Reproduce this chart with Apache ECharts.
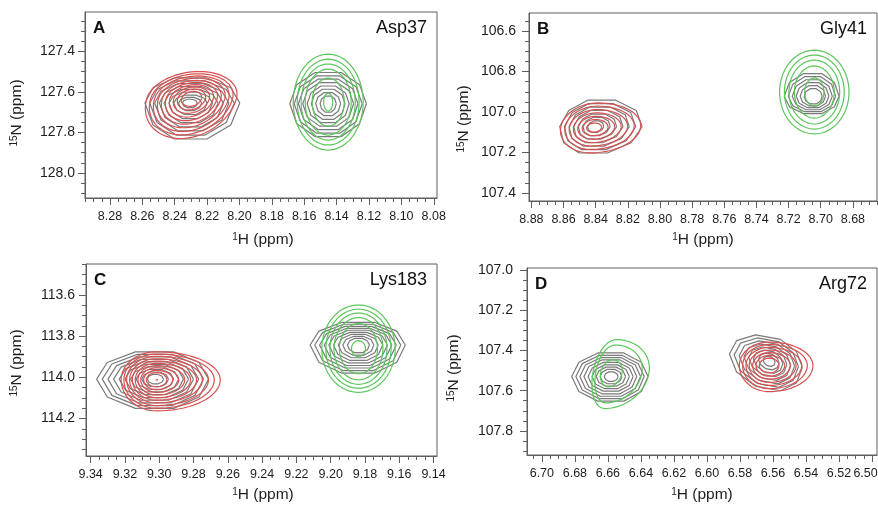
<!DOCTYPE html>
<html>
<head>
<meta charset="utf-8">
<script src="https://cdn.jsdelivr.net/npm/echarts@6/dist/echarts.min.js"></script>
<style>
  html, body { margin: 0; padding: 0; background: #fff; }
  #chart { width: 878px; height: 509px; }
</style>
</head>
<body>
<div id="chart"></div>
<script>
// ---------------- data ----------------
const panelLetters = ['A', 'B', 'C', 'D'];
const residueNames = ['Asp37', 'Gly41', 'Lys183', 'Arg72'];

// axis ranges [min, max] in ppm (1H axis runs right-to-left, 15N top-to-bottom)
const hRangeA = [8.078, 8.2954];
const nRangeA = [127.205, 128.124];
const hRangeB = [8.665, 8.8815];
const nRangeB = [106.51, 107.44];
const hRangeC = [9.138, 9.3427];
const nRangeC = [113.45, 114.382];
const hRangeD = [6.497, 6.709];
const nRangeD = [106.99, 107.92];

// labelled ticks
const hTicksA = [8.28, 8.26, 8.24, 8.22, 8.20, 8.18, 8.16, 8.14, 8.12, 8.10, 8.08];
const nTicksA = [127.4, 127.6, 127.8, 128.0];
const hTicksB = [8.88, 8.86, 8.84, 8.82, 8.80, 8.78, 8.76, 8.74, 8.72, 8.70, 8.68];
const nTicksB = [106.6, 106.8, 107.0, 107.2, 107.4];
const hTicksC = [9.34, 9.32, 9.30, 9.28, 9.26, 9.24, 9.22, 9.20, 9.18, 9.16, 9.14];
const nTicksC = [113.6, 113.8, 114.0, 114.2];
const hTicksD = [6.70, 6.68, 6.66, 6.64, 6.62, 6.60, 6.58, 6.56, 6.54, 6.52, 6.50];
const nTicksD = [107.0, 107.2, 107.4, 107.6, 107.8];
const hMinorStep = 0.005;
const nMinorStep = 0.05;

// Peak apexes [1H, 15N] and contour levels, each level given as its
// extent from the apex: [to the left, to the right, upward, downward] in ppm.
const aGrayLApex = [8.2306, 127.655];
const aGrayL = [
  [0.0278, 0.0308, 0.132, 0.189], [0.0248, 0.0274, 0.117, 0.168],
  [0.0218, 0.0241, 0.102, 0.146], [0.0189, 0.0207, 0.087, 0.125],
  [0.0159, 0.0174, 0.072, 0.103], [0.0129, 0.0140, 0.057, 0.082],
  [0.0100, 0.0107, 0.042, 0.060], [0.0070, 0.0073, 0.030, 0.040],
  [0.0046, 0.0046, 0.020, 0.024]
];
const aRedApex = [8.2296, 127.634];
const aRed = [
  [0.0277, 0.0277, 0.135, 0.196], [0.0253, 0.0253, 0.124, 0.178],
  [0.0229, 0.0229, 0.113, 0.161], [0.0205, 0.0205, 0.102, 0.143],
  [0.0181, 0.0181, 0.091, 0.125], [0.0158, 0.0158, 0.081, 0.108],
  [0.0134, 0.0134, 0.070, 0.090], [0.0110, 0.0110, 0.059, 0.072],
  [0.0086, 0.0086, 0.048, 0.055], [0.0062, 0.0062, 0.037, 0.037]
];
const aGrayRApex = [8.1452, 127.658];
const aGrayR = [
  [0.0237, 0.0236, 0.164, 0.173], [0.0210, 0.0210, 0.146, 0.155],
  [0.0184, 0.0184, 0.129, 0.136], [0.0157, 0.0157, 0.111, 0.118],
  [0.0130, 0.0130, 0.093, 0.100], [0.0104, 0.0104, 0.076, 0.082],
  [0.0077, 0.0077, 0.058, 0.063], [0.0050, 0.0050, 0.040, 0.045]
];
const aGreenApex = [8.1452, 127.650];
const aGreen = [
  [0.0216, 0.0216, 0.237, 0.237], [0.0191, 0.0191, 0.212, 0.212],
  [0.0167, 0.0167, 0.188, 0.188], [0.0142, 0.0142, 0.163, 0.163],
  [0.0099, 0.0099, 0.119, 0.119], [0.0028, 0.0028, 0.045, 0.045]
];

const bGrayLApex = [8.840, 107.072];
const bGrayL = [
  [0.0224, 0.0289, 0.139, 0.139], [0.0195, 0.0249, 0.121, 0.121],
  [0.0166, 0.0209, 0.103, 0.103], [0.0137, 0.0170, 0.085, 0.085],
  [0.0108, 0.0130, 0.066, 0.066], [0.0079, 0.0090, 0.048, 0.048],
  [0.0050, 0.0050, 0.030, 0.030]
];
const bRedApex = [8.841, 107.077];
const bRed = [
  [0.0208, 0.0289, 0.122, 0.125], [0.0181, 0.0249, 0.106, 0.108],
  [0.0154, 0.0208, 0.089, 0.091], [0.0128, 0.0168, 0.073, 0.074],
  [0.0101, 0.0128, 0.056, 0.057], [0.0074, 0.0087, 0.040, 0.040],
  [0.0047, 0.0047, 0.023, 0.023]
];
const bGrayRApex = [8.7047, 106.922];
const bGrayR = [
  [0.0180, 0.0161, 0.119, 0.091], [0.0155, 0.0140, 0.103, 0.081],
  [0.0130, 0.0119, 0.087, 0.071], [0.0106, 0.0098, 0.072, 0.060],
  [0.0081, 0.0077, 0.056, 0.050], [0.0056, 0.0056, 0.040, 0.040]
];
const bGreenApex = [8.704, 106.901];
const bGreen = [
  [0.0216, 0.0216, 0.207, 0.207], [0.0186, 0.0186, 0.183, 0.183],
  [0.0158, 0.0158, 0.158, 0.158], [0.0124, 0.0124, 0.129, 0.129],
  [0.0060, 0.0060, 0.070, 0.070]
];

const cGrayLApex = [9.3022, 114.009];
const cGrayL = [
  [0.0343, 0.0310, 0.141, 0.151], [0.0310, 0.0281, 0.128, 0.137],
  [0.0277, 0.0252, 0.115, 0.123], [0.0244, 0.0222, 0.102, 0.109],
  [0.0211, 0.0193, 0.089, 0.095], [0.0178, 0.0164, 0.076, 0.080],
  [0.0145, 0.0135, 0.063, 0.066], [0.0113, 0.0106, 0.050, 0.052],
  [0.0080, 0.0076, 0.037, 0.038], [0.0047, 0.0047, 0.024, 0.024]
];
const cRedApex = [9.3015, 114.012];
const cRed = [
  [0.0207, 0.0371, 0.136, 0.151], [0.0191, 0.0336, 0.125, 0.138],
  [0.0175, 0.0302, 0.114, 0.125], [0.0158, 0.0267, 0.102, 0.112],
  [0.0142, 0.0233, 0.091, 0.099], [0.0125, 0.0198, 0.080, 0.087],
  [0.0109, 0.0164, 0.069, 0.074], [0.0093, 0.0129, 0.058, 0.061],
  [0.0076, 0.0095, 0.046, 0.048], [0.0060, 0.0060, 0.035, 0.035],
  [0.0008, 0.0008, 0.004, 0.004]
];
const cGrayRApex = [9.1838, 113.843];
const cGrayR = [
  [0.0282, 0.0273, 0.117, 0.146], [0.0255, 0.0247, 0.107, 0.133],
  [0.0227, 0.0221, 0.096, 0.119], [0.0200, 0.0195, 0.086, 0.106],
  [0.0173, 0.0169, 0.076, 0.093], [0.0146, 0.0142, 0.065, 0.080],
  [0.0118, 0.0116, 0.055, 0.066], [0.0091, 0.0090, 0.044, 0.053],
  [0.0064, 0.0064, 0.034, 0.040]
];
const cGreenApex = [9.1838, 113.861];
const cGreen = [
  [0.0214, 0.0214, 0.212, 0.212], [0.0190, 0.0190, 0.192, 0.192],
  [0.0166, 0.0166, 0.173, 0.173], [0.0143, 0.0143, 0.151, 0.151],
  [0.0111, 0.0111, 0.122, 0.122], [0.0041, 0.0041, 0.039, 0.039]
];

const dGrayLApex = [6.658, 107.530];
const dGrayL = [
  [0.0239, 0.0223, 0.125, 0.130], [0.0214, 0.0200, 0.112, 0.117],
  [0.0190, 0.0178, 0.100, 0.104], [0.0165, 0.0155, 0.088, 0.091],
  [0.0140, 0.0133, 0.075, 0.077], [0.0116, 0.0110, 0.062, 0.064],
  [0.0091, 0.0087, 0.050, 0.051], [0.0067, 0.0065, 0.038, 0.038],
  [0.0042, 0.0042, 0.025, 0.025]
];
const dGreenApex = [6.6584, 107.511];
const dGreen = [
  [0.0107, 0.0233, 0.165, 0.178], [0.0090, 0.0190, 0.138, 0.150],
  [0.0060, 0.0070, 0.065, 0.070]
];
const dGrayRApex = [6.5623, 107.454];
const dGrayR = [
  [0.0241, 0.0201, 0.127, 0.145], [0.0212, 0.0177, 0.112, 0.128],
  [0.0182, 0.0154, 0.098, 0.111], [0.0153, 0.0130, 0.083, 0.094],
  [0.0124, 0.0107, 0.069, 0.076], [0.0095, 0.0083, 0.054, 0.059],
  [0.0065, 0.0060, 0.040, 0.042], [0.0036, 0.0036, 0.025, 0.025]
];
const dRedApex = [6.5623, 107.475];
const dRed = [
  [0.0181, 0.0265, 0.117, 0.130], [0.0161, 0.0231, 0.104, 0.115],
  [0.0141, 0.0197, 0.090, 0.099], [0.0121, 0.0163, 0.077, 0.084],
  [0.0100, 0.0128, 0.064, 0.068], [0.0080, 0.0094, 0.050, 0.053],
  [0.0060, 0.0060, 0.037, 0.037]
];

// ---------------- styling ----------------
const FONT = "'Liberation Sans', Arial, Helvetica, sans-serif";
const GRAY = '#7a7a7a';
const RED = '#da5050';
const GREEN = '#5cc65c';
const FRAME = '#5e5e5e';
const TEXT = '#1e1e1e';

// plot boxes [left, top, width, height] and the gap between 15N labels and frame
const boxes = [
  [85, 12, 352, 186],
  [529, 13, 348, 188],
  [86, 264, 351, 192],
  [527, 268, 350, 187]
];
const nLabelGap = [10, 13, 11, 14];
const hRanges = [hRangeA, hRangeB, hRangeC, hRangeD];
const nRanges = [nRangeA, nRangeB, nRangeC, nRangeD];
const hTicks = [hTicksA, hTicksB, hTicksC, hTicksD];
const nTicks = [nTicksA, nTicksB, nTicksC, nTicksD];

// contour sets per panel, drawn in this order
const contourSets = [
  [{ apex: aGrayLApex, levels: aGrayL, color: GRAY, poly: true },
   { apex: aGrayRApex, levels: aGrayR, color: GRAY, poly: true },
   { apex: aRedApex, levels: aRed, color: RED, shx: 0.035 },
   { apex: aGreenApex, levels: aGreen, color: GREEN }],
  [{ apex: bGrayLApex, levels: bGrayL, color: GRAY, poly: true, shx: 0.02 },
   { apex: bGrayRApex, levels: bGrayR, color: GRAY, poly: true },
   { apex: bRedApex, levels: bRed, color: RED, shx: 0.02 },
   { apex: bGreenApex, levels: bGreen, color: GREEN }],
  [{ apex: cGrayLApex, levels: cGrayL, color: GRAY, poly: true },
   { apex: cGrayRApex, levels: cGrayR, color: GRAY, poly: true },
   { apex: cRedApex, levels: cRed, color: RED },
   { apex: cGreenApex, levels: cGreen, color: GREEN }],
  [{ apex: dGrayLApex, levels: dGrayL, color: GRAY, poly: true },
   { apex: dGrayRApex, levels: dGrayR, color: GRAY, poly: true, shy: -1.5 },
   { apex: dGreenApex, levels: dGreen, color: GREEN, shx: 0.02 },
   { apex: dRedApex, levels: dRed, color: RED }]
];

// outline angles: coarse polygons for the grey spectrum, smooth curves otherwise
const POLY_ANGLES = [0, 35, 70, 110, 145, 180, 215, 250, 290, 325].map(d => d * Math.PI / 180);
const SMOOTH_ANGLES = Array.from({ length: 72 }, (_, i) => i * 2 * Math.PI / 72);

function levelOutline(apex, lv, angles, shx, shy) {
  const pts = angles.map(a => {
    const u = Math.cos(a), v = Math.sin(a);
    const dh = -(u >= 0 ? lv[1] : lv[0]) * u;   // screen right = lower ppm
    const dn = (v >= 0 ? lv[3] : lv[2]) * v;    // screen down = higher ppm
    return [apex[0] + dh + shx * dn, apex[1] + dn + shy * dh];
  });
  pts.push(pts[0]);
  return pts;
}

function minorValues(range, step) {
  const out = [];
  const k0 = Math.ceil(range[0] / step - 1e-6), k1 = Math.floor(range[1] / step + 1e-6);
  for (let k = k0; k <= k1; k++) out.push(+(k * step).toFixed(4));
  return out;
}

const grids = [], xAxes = [], yAxes = [], series = [], graphics = [];

boxes.forEach((b, p) => {
  grids.push({
    left: b[0], top: b[1], width: b[2], height: b[3],
    containLabel: false, outerBoundsMode: 'none',
    show: true, borderColor: FRAME, borderWidth: 1, backgroundColor: 'transparent'
  });
  const hr = hRanges[p], nr = nRanges[p];
  // major 1H axis; the label at the page's right edge is nudged left to stay visible
  const edgeTick = p === 3 ? hTicks[p][hTicks[p].length - 1] : null;
  xAxes.push({
    type: 'value', gridIndex: p, min: hr[0], max: hr[1], inverse: true, position: 'bottom',
    axisLine: { show: true, onZero: false, lineStyle: { color: FRAME, width: 1 } },
    axisTick: { show: true, customValues: hTicks[p], length: 7, lineStyle: { color: FRAME, width: 1 } },
    axisLabel: {
      customValues: hTicks[p], margin: 12, color: TEXT, fontSize: 12.5, fontFamily: FONT,
      hideOverlap: false,
      formatter: v => (edgeTick !== null && Math.abs(v - edgeTick) < 1e-6)
        ? '{e|' + v.toFixed(2) + '}' : v.toFixed(2),
      rich: { e: { padding: [0, 13, 0, 0], color: TEXT, fontSize: 12.5, fontFamily: FONT } }
    },
    splitLine: { show: false }
  });
  // minor 1H ticks
  xAxes.push({
    type: 'value', gridIndex: p, min: hr[0], max: hr[1], inverse: true, position: 'bottom',
    axisLine: { show: false, onZero: false },
    axisTick: { show: true, customValues: minorValues(hr, hMinorStep), length: 4,
                lineStyle: { color: FRAME, width: 1 } },
    axisLabel: { show: false }, splitLine: { show: false }
  });
  // major 15N axis
  yAxes.push({
    type: 'value', gridIndex: p, min: nr[0], max: nr[1], inverse: true, position: 'left',
    axisLine: { show: true, onZero: false, lineStyle: { color: FRAME, width: 1 } },
    axisTick: { show: true, customValues: nTicks[p], length: 7, lineStyle: { color: FRAME, width: 1 } },
    axisLabel: { customValues: nTicks[p], formatter: v => v.toFixed(1), margin: nLabelGap[p],
                 color: TEXT, fontSize: 14, fontFamily: FONT },
    splitLine: { show: false }
  });
  // minor 15N ticks
  yAxes.push({
    type: 'value', gridIndex: p, min: nr[0], max: nr[1], inverse: true, position: 'left',
    axisLine: { show: false, onZero: false },
    axisTick: { show: true, customValues: minorValues(nr, nMinorStep), length: 4,
                lineStyle: { color: FRAME, width: 1 } },
    axisLabel: { show: false }, splitLine: { show: false }
  });

  contourSets[p].forEach(set => {
    const angles = set.poly ? POLY_ANGLES : SMOOTH_ANGLES;
    set.levels.forEach(lv => {
      series.push({
        type: 'line', xAxisIndex: 2 * p, yAxisIndex: 2 * p,
        data: levelOutline(set.apex, lv, angles, set.shx || 0, set.shy || 0),
        showSymbol: false, symbol: 'none', silent: true, animation: false,
        lineStyle: { color: set.color, width: 1.2 }, clip: true
      });
    });
  });

  // panel letter and residue name
  graphics.push({
    type: 'text', x: b[0] + 8, y: b[1] + 8,
    style: { text: panelLetters[p], font: `bold 17px ${FONT}`, fill: '#111',
             textAlign: 'left', textVerticalAlign: 'top' }
  });
  graphics.push({
    type: 'text', x: b[0] + b[2] - 10, y: b[1] + 7,
    style: { text: residueNames[p], font: `18px ${FONT}`, fill: '#111',
             textAlign: 'right', textVerticalAlign: 'top' }
  });
});

// axis titles
const xTitlePos = [[263, 240], [703, 240], [263, 495], [702, 495]];
const yTitlePos = [[17, 113], [464, 119], [17, 363], [454, 368]];
const titleRich = { s: { fontSize: 10, fontFamily: FONT, fill: TEXT, verticalAlign: 'top', padding: [0, 0, 6, 0] },
                    t: { fontSize: 15.5, fontFamily: FONT, fill: TEXT } };
xTitlePos.forEach(pt => graphics.push({
  type: 'text', x: pt[0], y: pt[1],
  style: { text: '{s|1}{t|H (ppm)}', rich: titleRich, textAlign: 'center', textVerticalAlign: 'middle' }
}));
yTitlePos.forEach(pt => graphics.push({
  type: 'text', x: pt[0], y: pt[1], rotation: Math.PI / 2,
  style: { text: '{s|15}{t|N (ppm)}', rich: titleRich, textAlign: 'center', textVerticalAlign: 'middle' }
}));

const chart = echarts.init(document.getElementById('chart'), null, { renderer: 'canvas' });
chart.setOption({
  animation: false,
  backgroundColor: '#ffffff',
  grid: grids,
  xAxis: xAxes,
  yAxis: yAxes,
  series: series,
  graphic: graphics
});
</script>
</body>
</html>
